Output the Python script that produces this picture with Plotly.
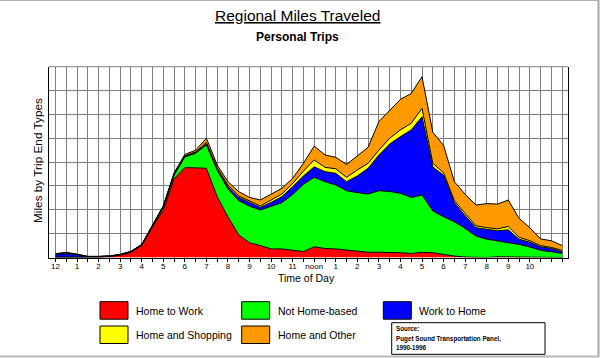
import plotly.graph_objects as go

# ---- data (half-hour intervals, hours after midnight) ----
half_hours = [0, 0.5, 1, 1.5, 2, 2.5, 3, 3.5, 4, 4.5, 5, 5.5, 6, 6.5, 7, 7.5,
              8, 8.5, 9, 9.5, 10, 10.5, 11, 11.5, 12, 12.5, 13, 13.5, 14, 14.5, 15, 15.5,
              16, 16.5, 17, 17.5, 18, 18.5, 19, 19.5, 20, 20.5, 21, 21.5, 22, 22.5, 23, 23.5]

home_to_work = [0, 0, 0, 0, 0.01, 0.04, 0.10, 0.22, 0.50, 1.28, 2.00, 3.30, 3.77, 3.76, 3.74, 2.55,
                1.70, 0.95, 0.62, 0.50, 0.36, 0.36, 0.32, 0.25, 0.45, 0.38, 0.36, 0.31, 0.27, 0.22, 0.22, 0.22,
                0.20, 0.17, 0.22, 0.20, 0.12, 0.06, 0.02, 0, 0, 0.03, 0.03, 0.03, 0.03, 0.02, 0, 0]
not_home_based = [0.02, 0.02, 0.02, 0.01, 0.01, 0.01, 0.01, 0.02, 0.03, 0.05, 0.12, 0.15, 0.45, 0.61, 0.98, 1.11,
                  1.17, 1.43, 1.53, 1.49, 1.77, 1.94, 2.32, 2.82, 2.91, 2.80, 2.68, 2.49, 2.45, 2.44, 2.58, 2.55,
                  2.49, 2.35, 2.40, 1.75, 1.59, 1.44, 1.20, 0.90, 0.77, 0.67, 0.59, 0.52, 0.41, 0.28, 0.24, 0.17]
work_to_home = [0.12, 0.14, 0.10, 0.03, 0.02, 0.01, 0.01, 0.01, 0.01, 0.01, 0.02, 0.03, 0.02, 0.03, 0.04, 0.04,
                0.10, 0.14, 0.15, 0.11, 0.18, 0.25, 0.33, 0.35, 0.44, 0.42, 0.49, 0.38, 0.70, 1.08, 1.50, 1.99,
                2.38, 2.83, 3.28, 1.85, 1.74, 0.80, 0.53, 0.35, 0.41, 0.42, 0.54, 0.22, 0.20, 0.15, 0.14, 0.07]
home_and_shopping = [0.01, 0.03, 0.01, 0, 0, 0, 0, 0, 0, 0.01, 0.01, 0.02, 0.02, 0.03, 0.06, 0.06,
                     0.06, 0.06, 0.07, 0.06, 0.10, 0.11, 0.13, 0.20, 0.29, 0.18, 0.19, 0.18, 0.25, 0.21, 0.20, 0.24,
                     0.28, 0.28, 0.35, 0.15, 0.10, 0.08, 0.10, 0.08, 0.07, 0.08, 0.14, 0.08, 0.06, 0.05, 0.04, 0.06]
home_and_other = [0.01, 0.03, 0.01, 0.01, 0.01, 0.01, 0.01, 0.01, 0.01, 0.01, 0.02, 0.05, 0.06, 0.07, 0.18, 0.12,
                  0.15, 0.18, 0.15, 0.25, 0.25, 0.24, 0.22, 0.33, 0.58, 0.52, 0.48, 0.54, 0.59, 0.67, 1.20, 1.16,
                  1.28, 1.25, 1.33, 1.30, 1.15, 0.80, 0.80, 0.87, 1.01, 1.04, 1.11, 0.79, 0.55, 0.28, 0.28, 0.20]

series_names = ["Home to Work", "Not Home-based", "Work to Home", "Home and Shopping", "Home and Other"]
series_values = [home_to_work, not_home_based, work_to_home, home_and_shopping, home_and_other]
series_colors = ["#FF0000", "#00FF00", "#0000FF", "#FFFF00", "#FF9900"]

tick_hours = [0, 1, 2, 3, 4, 5, 6, 7, 8, 9, 10, 11, 12, 13, 14, 15, 16, 17, 18, 19, 20, 21, 22]
tick_labels = ["12", "1", "2", "3", "4", "5", "6", "7", "8", "9", "10", "11", "noon",
               "1", "2", "3", "4", "5", "6", "7", "8", "9", "10"]

W, H = 601, 358
FONT = "Liberation Sans, Arial, sans-serif"


def fx(x):
    return x / W


def fy(y):
    return 1 - y / H


fig = go.Figure()
for name, vals, col in zip(series_names, series_values, series_colors):
    fig.add_trace(go.Scatter(
        x=half_hours, y=vals, name=name, mode="lines", stackgroup="one",
        line=dict(color="black", width=1), fillcolor=col, showlegend=False,
    ))

# ticks every half hour, labels on hours
tickvals = half_hours
ticktext = []
for h in half_hours:
    if h in tick_hours:
        ticktext.append(tick_labels[tick_hours.index(h)])
    else:
        ticktext.append("")

fig.update_layout(
    width=W, height=H,
    margin=dict(l=0, r=0, t=0, b=0),
    paper_bgcolor="white", plot_bgcolor="white",
    font=dict(family=FONT, color="black"),
    xaxis=dict(
        domain=[fx(49), fx(568)], range=[-0.3, 23.77],
        tickmode="array", tickvals=tickvals, ticktext=ticktext,
        ticks="outside", ticklen=3, tickcolor="black", tickwidth=1,
        ticklabelstandoff=-2,
        tickfont=dict(size=8, family=FONT, color="black"),
        showgrid=True, gridcolor="#808080", gridwidth=1,
        showline=True, linecolor="black", linewidth=1, mirror=False,
        zeroline=False, fixedrange=True,
    ),
    yaxis=dict(
        domain=[fy(257.5), fy(66.7)], range=[0, 8],
        tickmode="array", tickvals=[1, 2, 3, 4, 5, 6, 7],
        showticklabels=False, ticks="",
        showgrid=True, gridcolor="#808080", gridwidth=1,
        showline=True, linecolor="black", linewidth=1, mirror=True,
        zeroline=False, fixedrange=True,
    ),
)

shapes = []
annotations = []

# top border of plot area (gray like grid)
shapes.append(dict(type="line", xref="paper", yref="paper",
                   x0=fx(49), x1=fx(568), y0=fy(66.7), y1=fy(66.7),
                   line=dict(color="#808080", width=1)))

# outer window frame
shapes.append(dict(type="line", xref="paper", yref="paper", x0=0, x1=fx(599), y0=fy(0.5), y1=fy(0.5),
                   line=dict(color="#b0b0b0", width=1)))
shapes.append(dict(type="line", xref="paper", yref="paper", x0=fx(598.5), x1=fx(598.5), y0=fy(0), y1=fy(357),
                   line=dict(color="#a8a8a8", width=2)))
shapes.append(dict(type="line", xref="paper", yref="paper", x0=0, x1=fx(599), y0=fy(356.5), y1=fy(356.5),
                   line=dict(color="#b8b8b8", width=2)))

# titles
annotations.append(dict(text="Regional Miles Traveled", x=fx(297), y=fy(16), xref="paper", yref="paper",
                        xanchor="center", yanchor="middle", showarrow=False,
                        font=dict(size=15.5, family=FONT, color="black", lineposition="under")))
annotations.append(dict(text="<b>Personal Trips</b>", x=fx(297), y=fy(36.5), xref="paper", yref="paper",
                        xanchor="center", yanchor="middle", showarrow=False,
                        font=dict(size=12, family=FONT, color="black")))
annotations.append(dict(text="Miles by Trip End Types", x=fx(38), y=fy(161), xref="paper", yref="paper",
                        xanchor="center", yanchor="middle", showarrow=False, textangle=-90,
                        font=dict(size=11.8, family=FONT, color="black")))
annotations.append(dict(text="Time of Day", x=fx(306.5), y=fy(278), xref="paper", yref="paper",
                        xanchor="center", yanchor="middle", showarrow=False,
                        font=dict(size=10.5, family=FONT, color="black")))

# custom legend
legend_pos = [(100, 301.7), (241.7, 301.7), (383.3, 301.7), (100, 326), (241.7, 326)]
for (lx, ly), name, col in zip(legend_pos, series_names, series_colors):
    shapes.append(dict(type="rect", xref="paper", yref="paper",
                       x0=fx(lx), x1=fx(lx + 28), y0=fy(ly + 17.5), y1=fy(ly),
                       fillcolor=col, line=dict(color="black", width=1)))
    annotations.append(dict(text=name, x=fx(lx + 34), y=fy(ly + 9), xref="paper", yref="paper",
                            xanchor="left", yanchor="middle", showarrow=False,
                            font=dict(size=10.5, family=FONT, color="black")))

# source box
shapes.append(dict(type="rect", xref="paper", yref="paper",
                   x0=fx(391.7), x1=fx(545), y0=fy(354.3), y1=fy(322.7),
                   fillcolor="white", line=dict(color="black", width=1)))
source_lines = ["Source:", "Puget Sound Transportation Panel,", "1990-1996"]
source_y = [328.3, 338.5, 347]
for t, sy in zip(source_lines, source_y):
    annotations.append(dict(text="<b>" + t + "</b>", x=fx(394), y=fy(sy), xref="paper", yref="paper",
                            xanchor="left", yanchor="middle", showarrow=False,
                            font=dict(size=6.3, family=FONT, color="black")))

fig.update_layout(shapes=shapes, annotations=annotations)

fig.write_html("out.html", config={"displayModeBar": False, "staticPlot": True},
               post_script="document.body.style.margin='0';")
